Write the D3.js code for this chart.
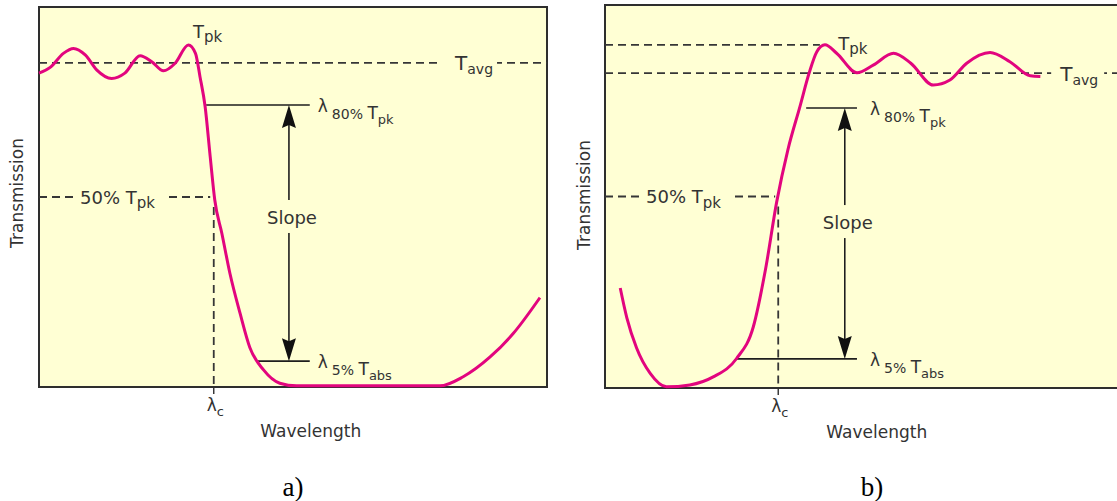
<!DOCTYPE html>
<html>
<head>
<meta charset="utf-8">
<script src="https://cdn.jsdelivr.net/npm/d3@7"></script>
<style>
  body { margin: 0; background: #fff; }
  text { font-family: "DejaVu Sans", sans-serif; fill: #333; }
  .caption { font-family: "Liberation Serif", "Times New Roman", serif; fill: #000; }
</style>
</head>
<body>
<svg id="chart" width="1117" height="501"></svg>
<script>
// ---- data (wavelength and transmission in arbitrary 0..100 units) ----

// panel a) : edge falling from the pass band into the blocking band
const waveA  = [0, 2.2, 4.8, 6.8, 9.1, 11.4, 14.3, 16.9, 19.9, 22.2, 24.5, 26.8, 29.4, 30.8, 31.7, 32.7,
                33.7, 34.6, 36.0, 37.6, 39.6, 41.5, 44.2, 47.4, 50.7, 65, 78.9, 83.5, 88.8, 93.3, 98.6];
const transA = [82.6, 84.1, 87.8, 89.1, 87.4, 83.4, 81.2, 82.6, 87.2, 85.6, 83.2, 85.2, 90.0, 87.8, 81.6, 73.8,
                60.6, 49.2, 40.4, 29.8, 19.3, 10.4, 4.5, 1.0, 0.3, 0.3, 0.3, 2.7, 7.9, 14.0, 23.5];

// panel b) : edge rising from the blocking band into the pass band
const waveB  = [3.0, 4.3, 6.2, 8.9, 12.1, 16.7, 21.3, 25.9, 29.2, 31.6, 33.8, 36.0, 38.4, 40.2, 41.7, 43.3,
                45.6, 49.6, 52.8, 56.8, 60.2, 64.6, 67.9, 71.2, 75.8, 79.7, 83.7, 85.7];
const transB = [26.1, 18.3, 10.5, 3.8, 0.3, 0.8, 2.9, 7.7, 16.0, 31.0, 48.6, 62.2, 73.6, 82.3, 87.8, 89.6,
                87.4, 82.3, 84.3, 87.4, 84.8, 79.1, 80.4, 84.8, 87.6, 85.2, 81.5, 81.3];

// reference levels: [Tpk, Tavg, 50% Tpk, 80% Tpk, 5% Tabs]
const levelsA = [90, 85.3, 50, 74.2, 6.8];
const levelsB = [89.6, 82.2, 50, 73.1, 7.6];

// marker wavelengths: [lambda c, slope arrow, 80% line start, 5% line start, level lines end]
const marksA = [34.4, 49.2, 32.9, 42.9, 53.3];
const marksB = [34.1, 47.2, 39.6, 25.9, 49.6];

const BG = '#ffffd4';
const CURVE = '#e2057e';
const INK = '#2e2e2e';

const svg = d3.select('#chart');

function drawPanel(p) {
  const [tpk, tavg, half, p80, p5] = p.levels;
  const [lc, arrowX, s80, s5, lineEnd] = p.marks;

  const x = d3.scaleLinear().domain([0, 100]).range(p.xRange);
  const y = d3.scaleLinear().domain([0, 100]).range([p.bottom, p.top]);

  const g = svg.append('g');
  const gLines = g.append('g');
  const gMask = g.append('g');
  const gCurve = g.append('g');
  const gText = g.append('g');

  // plot box
  g.insert('rect', ':first-child')
    .attr('x', p.xRange[0])
    .attr('y', p.top)
    .attr('width', p.boxRight - p.xRange[0])
    .attr('height', p.bottom - p.top)
    .attr('fill', BG)
    .attr('stroke', INK)
    .attr('stroke-width', 2);

  const dashed = sel => sel.attr('stroke', '#363636').attr('stroke-width', 1.8).attr('stroke-dasharray', '8,5').attr('fill', 'none');
  const solid = sel => sel.attr('stroke', '#1e1e1e').attr('stroke-width', 1.6);

  // Tpk level (panel b only)
  if (p.tpkLineEnd !== undefined) {
    gLines.append('line')
      .attr('x1', x(0)).attr('x2', x(p.tpkLineEnd))
      .attr('y1', y(tpk)).attr('y2', y(tpk))
      .call(dashed);
  }

  // Tavg level across the box
  gLines.append('line')
    .attr('x1', x(0)).attr('x2', Math.min(p.boxRight, 1117))
    .attr('y1', y(tavg)).attr('y2', y(tavg))
    .call(dashed);

  // 50% level and lambda c
  gLines.append('line')
    .attr('x1', x(0)).attr('x2', x(p.halfEnd))
    .attr('y1', y(half)).attr('y2', y(half))
    .call(dashed);
  gLines.append('line')
    .attr('x1', x(lc)).attr('x2', x(lc))
    .attr('y1', y(half) + 10).attr('y2', p.bottom)
    .call(dashed);
  gLines.append('line')
    .attr('x1', x(lc)).attr('x2', x(lc))
    .attr('y1', p.bottom).attr('y2', p.bottom + 7)
    .attr('stroke', INK).attr('stroke-width', 1.4);

  // 80% / 5% lines
  gLines.append('line')
    .attr('x1', x(s80)).attr('x2', x(lineEnd))
    .attr('y1', y(p80)).attr('y2', y(p80))
    .call(solid);
  gLines.append('line')
    .attr('x1', x(s5)).attr('x2', x(lineEnd))
    .attr('y1', y(p5)).attr('y2', y(p5))
    .call(solid);

  // slope arrow
  const ax = x(arrowX);
  gLines.append('line')
    .attr('x1', ax).attr('x2', ax)
    .attr('y1', y(p80) + 10).attr('y2', y(p5) - 10)
    .call(solid);
  const head = (tipY, dir) =>
    `M${ax},${tipY} L${ax - 7},${tipY + dir * 23} L${ax},${tipY + dir * 20} L${ax + 7},${tipY + dir * 23} Z`;
  gLines.append('path').attr('d', head(y(p80), 1)).attr('fill', '#111');
  gLines.append('path').attr('d', head(y(p5), -1)).attr('fill', '#111');

  // transmission curve
  const line = d3.line()
    .x(d => x(d[0]))
    .y(d => y(d[1]))
    .curve(d3.curveMonotoneX);
  gCurve.append('path')
    .datum(d3.zip(p.wave, p.trans))
    .attr('d', line)
    .attr('fill', 'none')
    .attr('stroke', CURVE)
    .attr('stroke-width', 3)
    .attr('stroke-linejoin', 'round');

  // masked labels sitting on lines
  const masked = (textSel, padL, padR, padT, padB) => {
    const b = textSel.node().getBBox();
    gMask.append('rect')
      .attr('x', b.x - padL).attr('y', b.y - padT)
      .attr('width', b.width + padL + padR).attr('height', b.height + padT + padB)
      .attr('fill', BG);
  };

  // Tavg label
  const tAvg = gText.append('text')
    .attr('x', x(p.tavgLabelX)).attr('y', y(tavg) + 7.5);
  tAvg.append('tspan').attr('font-size', 20).text('T');
  tAvg.append('tspan').attr('font-size', 14).attr('dy', 4).text('avg');
  masked(tAvg, p.tavgGap[0], p.tavgGap[1], -2, -6);

  // 50% Tpk label
  const tHalf = gText.append('text')
    .attr('x', x(0) + 41).attr('y', y(half) + 6.5);
  tHalf.append('tspan').attr('font-size', 18).text('50% T');
  tHalf.append('tspan').attr('font-size', 15).attr('dy', 4.5).text('pk');
  masked(tHalf, 7, 9, 0, 0);

  // Slope label in the arrow
  const tSlope = gText.append('text')
    .attr('x', ax + 3).attr('y', y(p.slopeY))
    .attr('text-anchor', 'middle')
    .attr('font-size', 18)
    .text('Slope');
  {
    const b = tSlope.node().getBBox();
    gMask.append('rect')
      .attr('x', ax - 4).attr('width', 8)
      .attr('y', b.y - 7).attr('height', b.height + 12)
      .attr('fill', BG);
  }

  // Tpk label near the peak
  const tPk = gText.append('text')
    .attr('x', x(p.tpkLabel[0])).attr('y', y(p.tpkLabel[1]));
  tPk.append('tspan').attr('font-size', 18).text('T');
  tPk.append('tspan').attr('font-size', 15).attr('dy', 4).text('pk');

  // lambda labels
  const lambdaLabel = (level, sub, subsub) => {
    const t = gText.append('text')
      .attr('x', x(lineEnd) + p.lambdaGap).attr('y', y(level) + 7);
    t.append('tspan').attr('font-size', 17).text('λ');
    t.append('tspan').attr('font-size', 14).attr('dx', 4).attr('dy', 7).text(sub + ' ');
    t.append('tspan').attr('font-size', 17).text('T');
    t.append('tspan').attr('font-size', 13).attr('dy', 5).text(subsub);
  };
  lambdaLabel(p80, '80%', 'pk');
  lambdaLabel(p5, '5%', 'abs');

  // lambda c under the axis
  const tLc = gText.append('text')
    .attr('x', x(lc) - 7).attr('y', p.bottom + 24);
  tLc.append('tspan').attr('font-size', 17).text('λ');
  tLc.append('tspan').attr('font-size', 13).attr('dy', 5).text('c');

  // axis titles
  gText.append('text')
    .attr('x', x(p.waveLabelX)).attr('y', p.bottom + 50)
    .attr('text-anchor', 'middle')
    .attr('font-size', 17)
    .text('Wavelength');
  gText.append('text')
    .attr('transform', `translate(${p.yLabelX},${p.yLabelY}) rotate(-90)`)
    .attr('text-anchor', 'middle')
    .attr('font-size', 17)
    .text('Transmission');

  // caption
  svg.append('text')
    .attr('class', 'caption')
    .attr('x', p.captionX).attr('y', 496)
    .attr('text-anchor', 'middle')
    .attr('font-size', 27)
    .text(p.caption);
}

drawPanel({
  wave: waveA, trans: transA, levels: levelsA, marks: marksA,
  xRange: [39, 547], boxRight: 547, top: 7, bottom: 387,
  halfEnd: 33.7, tavgLabelX: 81.9, tavgGap: [16, 4], slopeY: 42.9,
  tpkLabel: [30.3, 91.8], lambdaGap: 8, waveLabelX: 53.5,
  yLabelX: 23, yLabelY: 193, captionX: 293, caption: 'a)'
});

drawPanel({
  wave: waveB, trans: transB, levels: levelsB, marks: marksB,
  xRange: [605, 1113], boxRight: 1130, top: 5, bottom: 388,
  halfEnd: 33.5, tpkLineEnd: 42.3, tavgLabelX: 89.6, tavgGap: [8, 6], slopeY: 41.5,
  tpkLabel: [45.9, 88.3], lambdaGap: 13, waveLabelX: 53.5,
  yLabelX: 590, yLabelY: 195, captionX: 872, caption: 'b)'
});
</script>
</body>
</html>
